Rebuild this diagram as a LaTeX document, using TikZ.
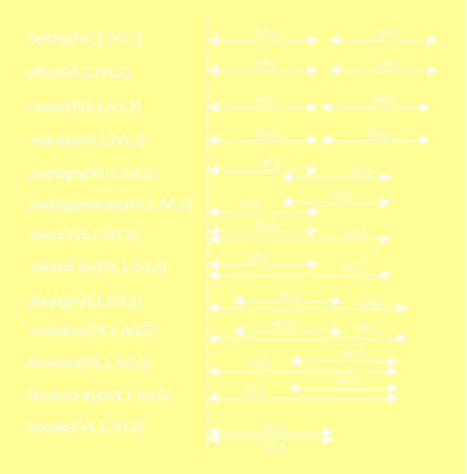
\documentclass[tikz,border=0pt]{standalone}
\usepackage{fontspec}
\setmainfont{Liberation Sans}
\usetikzlibrary{arrows.meta}
\definecolor{bg}{RGB}{255,255,150}
\tikzset{
 ivl/.style={draw=white, line width=1pt, {Triangle[length=10pt,width=10pt]}-{Triangle[length=10pt,width=10pt]}},
 rel/.style={text=white, font=\fontsize{14.5}{16}\selectfont, anchor=west, inner sep=0pt},
 tag/.style={text=white, font=\fontsize{10.5}{12}\selectfont, inner sep=0pt},
 axis/.style={draw=white, line width=1pt},
}
\newcommand\ivl[7]{%
 \coordinate (#1a) at (#2,#4); \coordinate (#1b) at (#3,#4);
 \draw[ivl] (#1a) -- (#1b);
 \node[tag] (#1l) at (#6,#7) {#5};}
\begin{document}
\begin{tikzpicture}[x=1pt,y=-1pt]
\fill[bg] (0,0) rectangle (466,474);
\useasboundingbox (0,0) rectangle (466,474);
\coordinate (top) at (207,16); \coordinate (bot) at (207,455);
\draw[axis] (top) -- (bot);
% relation labels
\node[rel] (r1) at (28,40) {before(IVL1,IVL2)};
\node[rel] (r2) at (28,74) {after(IVL1,IVL2)};
\node[rel] (r3) at (28,108) {meets(IVL1,IVL2)};
\node[rel] (r4) at (28,142) {met-by(IVL1,IVL2)};
\node[rel] (r5) at (28,175) {overlaps(IVL1,IVL2)};
\node[rel] (r6) at (28,206) {overlapped-by(IVL1,IVL2)};
\node[rel] (r7) at (29,236) {starts(IVL1,IVL2)};
\node[rel] (r8) at (29,268) {started-by(IVL1,IVL2)};
\node[rel] (r9) at (28,303) {during(IVL1,IVL2)};
\node[rel] (r10) at (28,332) {contains(IVL1,IVL2)};
\node[rel] (r11) at (28,364) {finishes(IVL1,IVL2)};
\node[rel] (r12) at (28,397) {finished-by(IVL1,IVL2)};
\node[rel] (r13) at (28,428) {equals(IVL1,IVL2)};
% intervals
\ivl{b1}{208}{318}{40}{IVL1}{267}{33}
\ivl{b2}{329}{438}{40}{IVL2}{388}{33}
\ivl{a1}{208}{318}{70}{IVL2}{267}{63}
\ivl{a2}{329}{438}{70}{IVL1}{388}{63}
\ivl{m1}{208}{318}{107}{IVL1}{267}{100}
\ivl{m2}{321}{430}{107}{IVL2}{384}{100}
\ivl{mb1}{208}{318}{140}{IVL2}{267}{134}
\ivl{mb2}{321}{430}{140}{IVL1}{379}{134}
\ivl{o1}{208}{318}{170}{IVL1}{270}{162}
\ivl{o2}{281}{391}{177}{IVL2}{363}{171}
\ivl{ob1}{281}{391}{202}{IVL1}{343}{194}
\ivl{ob2}{208}{319}{212}{IVL2}{247}{205}
\ivl{s1}{208}{318}{231}{IVL1}{266}{225}
\ivl{s2}{208}{391}{239}{IVL2}{355}{233}
\ivl{sb1}{208}{318}{264}{IVL2}{259}{257}
\ivl{sb2}{208}{391}{275}{IVL1}{353}{266}
\ivl{d1}{233}{342}{301}{IVL1}{290}{295}
\ivl{d2}{208}{407}{308}{IVL2}{372}{303}
\ivl{c1}{233}{342}{331}{IVL2}{283}{323}
\ivl{c2}{208}{407}{338}{IVL1}{370}{329}
\ivl{f1}{290}{398}{361}{IVL1}{355}{353}
\ivl{f2}{208}{398}{371}{IVL2}{257}{363}
\ivl{fb1}{288}{398}{388}{IVL2}{347}{381}
\ivl{fb2}{208}{398}{398}{IVL1}{253}{390}
\ivl{e1}{208}{333}{432}{IVL1}{273}{427}
\ivl{e2}{208}{333}{439}{IVL2}{274}{448}
\end{tikzpicture}
\end{document}
